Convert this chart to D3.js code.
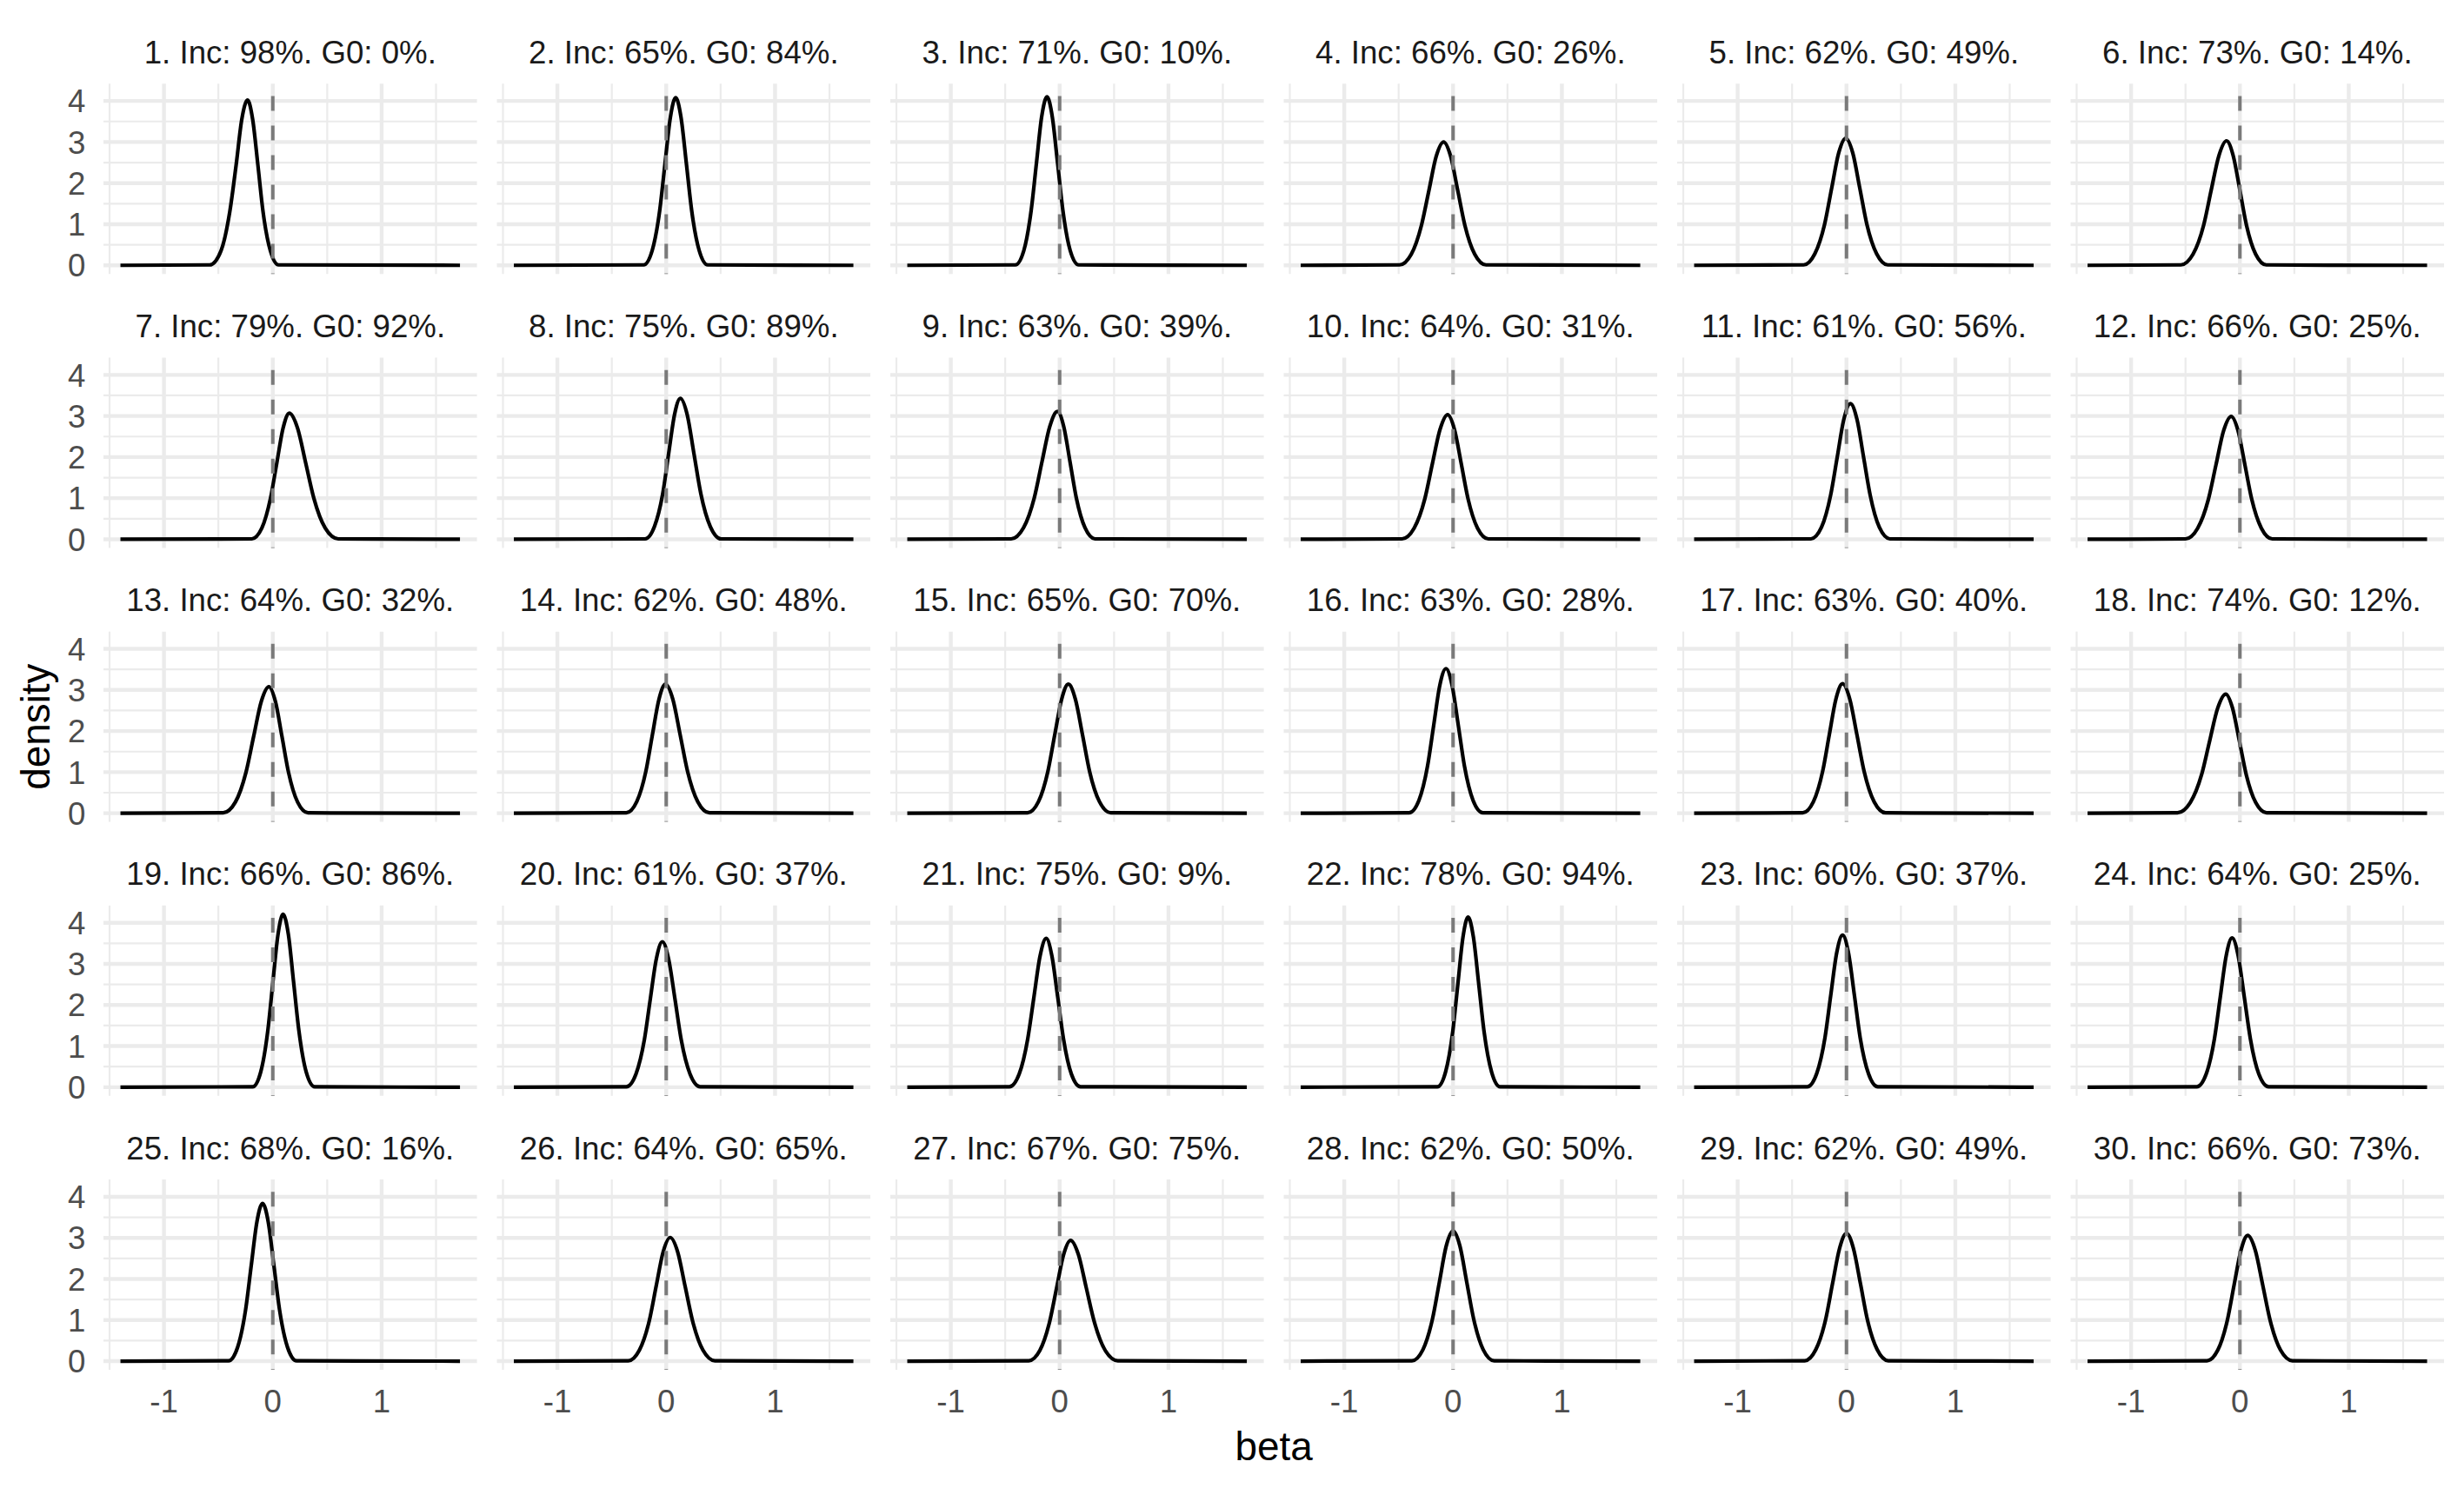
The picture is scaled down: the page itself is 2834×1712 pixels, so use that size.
<!DOCTYPE html>
<html>
<head>
<meta charset="utf-8">
<script src="https://cdn.jsdelivr.net/npm/d3@7"></script>
<style>
  body { margin: 0; background: #fff; }
  svg { display: block; }
  text { font-family: "Liberation Sans", Arial, sans-serif; }
</style>
</head>
<body>
<div id="chart"></div>
<script>
// panel labels: "<id>. Inc: <inc>%. G0: <g0>%."
var panelInc = [98, 65, 71, 66, 62, 73, 79, 75, 63, 64, 61, 66, 64, 62, 65,
                63, 63, 74, 66, 61, 75, 78, 60, 64, 68, 64, 67, 62, 62, 66];
var panelG0  = [0, 84, 10, 26, 49, 14, 92, 89, 39, 31, 56, 25, 32, 48, 70,
                28, 40, 12, 86, 37, 9, 94, 37, 25, 16, 65, 75, 50, 49, 73];

// density curves (beta, density)
var densityX = [
  [-1.4,-0.580,-0.475,-0.395,-0.337,-0.285,-0.232,-0.185,-0.137,-0.090,-0.023,0.053,1.72],
  [-1.4,-0.207,-0.129,-0.060,-0.011,0.038,0.087,0.136,0.185,0.234,0.303,0.381,1.72],
  [-1.4,-0.407,-0.329,-0.262,-0.213,-0.165,-0.116,-0.068,-0.019,0.030,0.097,0.175,1.72],
  [-1.4,-0.492,-0.384,-0.290,-0.222,-0.155,-0.087,-0.022,0.043,0.108,0.199,0.303,1.72],
  [-1.4,-0.394,-0.291,-0.201,-0.136,-0.072,-0.007,0.058,0.122,0.187,0.277,0.380,1.72],
  [-1.4,-0.543,-0.431,-0.333,-0.263,-0.193,-0.123,-0.062,-0.001,0.060,0.145,0.243,1.72],
  [-1.4,-0.193,-0.101,-0.021,0.037,0.095,0.152,0.227,0.302,0.377,0.482,0.602,1.72],
  [-1.4,-0.194,-0.108,-0.032,0.022,0.076,0.130,0.193,0.255,0.318,0.405,0.505,1.72],
  [-1.4,-0.446,-0.332,-0.233,-0.162,-0.091,-0.020,0.038,0.095,0.153,0.233,0.325,1.72],
  [-1.4,-0.470,-0.358,-0.260,-0.190,-0.120,-0.050,0.013,0.075,0.138,0.225,0.325,1.72],
  [-1.4,-0.327,-0.230,-0.146,-0.085,-0.025,0.036,0.097,0.157,0.218,0.302,0.399,1.72],
  [-1.4,-0.500,-0.388,-0.290,-0.220,-0.150,-0.080,-0.017,0.046,0.109,0.197,0.298,1.72],
  [-1.4,-0.456,-0.344,-0.246,-0.176,-0.106,-0.036,0.024,0.084,0.144,0.228,0.324,1.72],
  [-1.4,-0.367,-0.271,-0.187,-0.127,-0.067,-0.007,0.061,0.128,0.196,0.290,0.398,1.72],
  [-1.4,-0.295,-0.195,-0.108,-0.045,0.018,0.080,0.145,0.210,0.275,0.366,0.470,1.72],
  [-1.4,-0.404,-0.314,-0.235,-0.178,-0.122,-0.065,-0.009,0.048,0.105,0.184,0.274,1.72],
  [-1.4,-0.402,-0.304,-0.219,-0.158,-0.097,-0.036,0.030,0.096,0.162,0.254,0.360,1.72],
  [-1.4,-0.574,-0.456,-0.352,-0.278,-0.204,-0.130,-0.068,-0.005,0.058,0.145,0.245,1.72],
  [-1.4,-0.185,-0.111,-0.046,0.001,0.048,0.094,0.143,0.191,0.240,0.307,0.385,1.72],
  [-1.4,-0.366,-0.278,-0.201,-0.146,-0.091,-0.036,0.022,0.080,0.138,0.219,0.312,1.72],
  [-1.4,-0.462,-0.372,-0.293,-0.236,-0.180,-0.123,-0.071,-0.018,0.035,0.108,0.192,1.72],
  [-1.4,-0.144,-0.069,-0.003,0.044,0.091,0.138,0.187,0.236,0.285,0.354,0.432,1.72],
  [-1.4,-0.360,-0.274,-0.198,-0.144,-0.090,-0.036,0.018,0.072,0.126,0.202,0.288,1.72],
  [-1.4,-0.396,-0.310,-0.234,-0.180,-0.126,-0.072,-0.016,0.040,0.096,0.174,0.264,1.72],
  [-1.4,-0.406,-0.323,-0.250,-0.198,-0.146,-0.094,-0.042,0.010,0.062,0.135,0.218,1.72],
  [-1.4,-0.348,-0.246,-0.156,-0.092,-0.028,0.036,0.105,0.173,0.242,0.337,0.447,1.72],
  [-1.4,-0.284,-0.182,-0.092,-0.028,0.036,0.100,0.173,0.245,0.318,0.419,0.535,1.72],
  [-1.4,-0.378,-0.277,-0.189,-0.126,-0.063,0.000,0.063,0.126,0.189,0.277,0.378,1.72],
  [-1.4,-0.384,-0.282,-0.192,-0.128,-0.064,0.000,0.064,0.128,0.192,0.282,0.384,1.72],
  [-1.4,-0.303,-0.203,-0.116,-0.053,0.010,0.072,0.141,0.209,0.278,0.373,0.483,1.72]
];
var densityY = [
  [0,0.01,0.36,1.31,2.44,3.55,4.02,3.55,2.44,1.31,0.36,0.01,0],
  [0,0.01,0.36,1.33,2.48,3.60,4.08,3.60,2.48,1.33,0.36,0.01,0],
  [0,0.01,0.36,1.33,2.49,3.62,4.10,3.62,2.49,1.33,0.36,0.01,0],
  [0,0.01,0.27,0.98,1.82,2.65,3.00,2.65,1.82,0.98,0.27,0.01,0],
  [0,0.01,0.28,1.00,1.88,2.73,3.09,2.73,1.88,1.00,0.28,0.01,0],
  [0,0.01,0.27,0.98,1.84,2.67,3.03,2.67,1.84,0.98,0.27,0.01,0],
  [0,0.01,0.27,1.00,1.86,2.71,3.07,2.71,1.86,1.00,0.27,0.01,0],
  [0,0.01,0.31,1.11,2.08,3.03,3.43,3.03,2.08,1.11,0.31,0.01,0],
  [0,0.01,0.28,1.01,1.89,2.74,3.11,2.74,1.89,1.01,0.28,0.01,0],
  [0,0.01,0.27,0.98,1.84,2.67,3.03,2.67,1.84,0.98,0.27,0.01,0],
  [0,0.01,0.29,1.07,2.00,2.91,3.30,2.91,2.00,1.07,0.29,0.01,0],
  [0,0.01,0.27,0.97,1.81,2.64,2.99,2.64,1.81,0.97,0.27,0.01,0],
  [0,0.01,0.27,1.00,1.87,2.72,3.08,2.72,1.87,1.00,0.27,0.01,0],
  [0,0.01,0.28,1.02,1.91,2.77,3.14,2.77,1.91,1.02,0.28,0.01,0],
  [0,0.01,0.28,1.02,1.91,2.77,3.14,2.77,1.91,1.02,0.28,0.01,0],
  [0,0.01,0.31,1.14,2.14,3.11,3.52,3.11,2.14,1.14,0.31,0.01,0],
  [0,0.01,0.28,1.02,1.91,2.78,3.15,2.78,1.91,1.02,0.28,0.01,0],
  [0,0.01,0.26,0.94,1.76,2.56,2.90,2.56,1.76,0.94,0.26,0.01,0],
  [0,0.01,0.37,1.37,2.56,3.72,4.21,3.72,2.56,1.37,0.37,0.01,0],
  [0,0.01,0.32,1.15,2.15,3.12,3.54,3.12,2.15,1.15,0.32,0.01,0],
  [0,0.01,0.32,1.18,2.20,3.19,3.62,3.19,2.20,1.18,0.32,0.01,0],
  [0,0.01,0.37,1.35,2.51,3.65,4.14,3.65,2.51,1.35,0.37,0.01,0],
  [0,0.01,0.33,1.20,2.25,3.27,3.70,3.27,2.25,1.20,0.33,0.01,0],
  [0,0.01,0.32,1.18,2.20,3.20,3.63,3.20,2.20,1.18,0.32,0.01,0],
  [0,0.01,0.34,1.25,2.33,3.39,3.84,3.39,2.33,1.25,0.34,0.01,0],
  [0,0.01,0.27,0.98,1.83,2.66,3.01,2.66,1.83,0.98,0.27,0.01,0],
  [0,0.01,0.26,0.96,1.78,2.59,2.94,2.59,1.78,0.96,0.26,0.01,0],
  [0,0.01,0.28,1.03,1.92,2.80,3.17,2.80,1.92,1.03,0.28,0.01,0],
  [0,0.01,0.28,1.01,1.89,2.74,3.11,2.74,1.89,1.01,0.28,0.01,0],
  [0,0.01,0.27,0.99,1.86,2.70,3.06,2.70,1.86,0.99,0.27,0.01,0]
];

var xTicks = [-1, 0, 1];
var xMinor = [-1.5, -0.5, 0.5, 1.5];
var yTicks = [0, 1, 2, 3, 4];
var yMinor = [0.5, 1.5, 2.5, 3.5];
var refX = 0;      // dashed reference line
var refTop = 4.12;

var width = 2834, height = 1712;
var pt = 300 / 72;
var nCols = 6, nRows = 5;
var margins = { top: 5.5 * pt, right: 5.5 * pt, left: 119 };
var stripH = 17.6 * pt;
var spacing = 5.5 * pt;
var panelsBottom = 1576;
var panelW = (width - margins.right - margins.left - (nCols - 1) * spacing) / nCols;
var panelH = (panelsBottom - margins.top - nRows * stripH - (nRows - 1) * spacing) / nRows;

var smallFont = 8.8 * pt, bigFont = 11 * pt;

var xExt = d3.extent(d3.merge(densityX));
var xPad = (xExt[1] - xExt[0]) * 0.05;
var yMax = d3.max(d3.merge(densityY));
var yPad = yMax * 0.05;

var x = d3.scaleLinear().domain([xExt[0] - xPad, xExt[1] + xPad]).range([0, panelW]);
var y = d3.scaleLinear().domain([-yPad, yMax + yPad]).range([panelH, 0]);

var line = d3.line()
  .x(d => x(d[0]))
  .y(d => y(d[1]))
  .curve(d3.curveMonotoneX);

var svg = d3.select("#chart").append("svg")
  .attr("width", width)
  .attr("height", height);

var panels = svg.selectAll(".panel")
  .data(d3.range(panelInc.length))
  .join("g")
  .attr("class", "panel")
  .attr("transform", function(i) {
    var col = i % nCols, row = Math.floor(i / nCols);
    var px = margins.left + col * (panelW + spacing);
    var py = margins.top + stripH + row * (stripH + panelH + spacing);
    return "translate(" + px + "," + py + ")";
  });

// minor grid
panels.selectAll(".vminor").data(xMinor).join("line")
  .attr("x1", d => x(d)).attr("x2", d => x(d))
  .attr("y1", 0).attr("y2", panelH)
  .style("stroke", "#EBEBEB").style("stroke-width", 2.2);
panels.selectAll(".hminor").data(yMinor).join("line")
  .attr("x1", 0).attr("x2", panelW)
  .attr("y1", d => y(d)).attr("y2", d => y(d))
  .style("stroke", "#EBEBEB").style("stroke-width", 2.2);

// major grid
panels.selectAll(".vmajor").data(xTicks).join("line")
  .attr("x1", d => x(d)).attr("x2", d => x(d))
  .attr("y1", 0).attr("y2", panelH)
  .style("stroke", "#EBEBEB").style("stroke-width", 4.4);
panels.selectAll(".hmajor").data(yTicks).join("line")
  .attr("x1", 0).attr("x2", panelW)
  .attr("y1", d => y(d)).attr("y2", d => y(d))
  .style("stroke", "#EBEBEB").style("stroke-width", 4.4);

// density
panels.append("path")
  .attr("d", i => line(d3.zip(densityX[i], densityY[i])))
  .style("fill", "none")
  .style("stroke", "#000")
  .style("stroke-width", 4.2)
  .style("stroke-linejoin", "round");

// dashed line at 0
panels.append("line")
  .attr("x1", x(refX)).attr("x2", x(refX))
  .attr("y1", y(refTop)).attr("y2", panelH)
  .style("stroke", "#7A7A7A")
  .style("stroke-width", 4)
  .style("stroke-dasharray", "17,17");

// strip titles
panels.append("text")
  .attr("x", panelW / 2)
  .attr("y", -stripH / 2 + 0.36 * smallFont)
  .attr("text-anchor", "middle")
  .style("font-size", smallFont + "px")
  .style("fill", "#1A1A1A")
  .text(i => (i + 1) + ". Inc: " + panelInc[i] + "%. G0: " + panelG0[i] + "%.");

// y axis labels, first column
panels.filter(i => i % nCols == 0)
  .selectAll(".ylab").data(yTicks).join("text")
  .attr("x", -20.7)
  .attr("y", d => y(d) + 0.36 * smallFont)
  .attr("text-anchor", "end")
  .style("font-size", smallFont + "px")
  .style("fill", "#4D4D4D")
  .text(d => d);

// x axis labels, bottom row
panels.filter(i => Math.floor(i / nCols) == nRows - 1)
  .selectAll(".xlab").data(xTicks).join("text")
  .attr("x", d => x(d))
  .attr("y", panelH + 49)
  .attr("text-anchor", "middle")
  .style("font-size", smallFont + "px")
  .style("fill", "#4D4D4D")
  .text(d => d);

// axis titles
svg.append("text")
  .attr("x", (margins.left + width - margins.right) / 2)
  .attr("y", 1680)
  .attr("text-anchor", "middle")
  .style("font-size", bigFont + "px")
  .style("fill", "#000")
  .text("beta");

svg.append("text")
  .attr("transform", "translate(57," + ((margins.top + stripH + panelsBottom) / 2) + ") rotate(-90)")
  .attr("text-anchor", "middle")
  .style("font-size", bigFont + "px")
  .style("fill", "#000")
  .text("density");
</script>
</body>
</html>
